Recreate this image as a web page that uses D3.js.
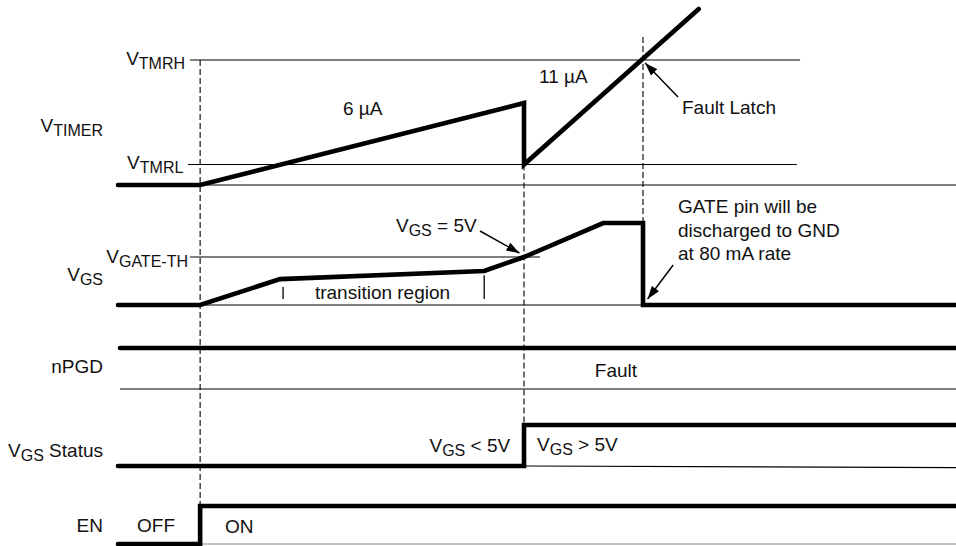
<!DOCTYPE html>
<html><head><meta charset="utf-8">
<script src="https://cdn.jsdelivr.net/npm/d3@7"></script>
<style>
body{margin:0;background:#fff;}
svg{display:block;font-family:"Liberation Sans",Arial,Helvetica,sans-serif;}
</style></head><body>
<svg id="c" width="956" height="546"></svg>
<script>
// ---------- DATA (time in arbitrary units, 0..100) ----------
const tEnd = 100;
const tEN = 9.8;        // EN goes ON
const tKnee1 = 19.33;   // VGS reaches transition region
const tTick1 = 19.7;
const tKnee2 = 43.7;    // end of transition region
const tVgs5 = 48.45;    // VGS = 5 V
const tVgsTop = 57.9;
const tFault = 62.65;   // fault latch
const tTimerEnd = 69.3;

// VTIMER, normalised so that VTMRH = 1
const timerThresholdNames = ["TMRH", "TMRL"];
const timerThresholds = [1, 0.164];
const timerThresholdSpan = [[8.6, 81.4], [8.35, 81.0]];
const timerT = [0, tEN, tVgs5, tVgs5, tTimerEnd];
const timerV = [0, 0, 0.656, 0.164, 1.408];

// VGS in volts
const vgsT = [0, tEN, tKnee1, tKnee2, tVgs5, tVgsTop, tFault, tFault, tEnd];
const vgsV = [0, 0, 2.7, 3.54, 5, 8.54, 8.54, 0, 0];
const vgateTh = 5;
const vgateThSpan = [8.6, 50.35];

// digital traces (0 = low, 1 = high)
const npgdT = [0.24, tEnd];
const npgdV = [1, 1];
const statusT = [0, tVgs5, tVgs5, tEnd];
const statusV = [0, 0, 1, 1];
const enT = [0, tEN, tEN, tEnd];
const enV = [0, 0, 1, 1];

// ---------- LAYOUT ----------
const svg = d3.select("#c");
const x = d3.scaleLinear().domain([0, 100]).range([118, 956]);
const yTimer = d3.scaleLinear().domain([0, 1]).range([185, 60]);
const yVgs = d3.scaleLinear().domain([0, 5]).range([305, 257]);
const yNpgd = d3.scaleLinear().domain([0, 1]).range([389, 348]);
const yStatus = d3.scaleLinear().domain([0, 1]).range([466, 425]);
const yEn = d3.scaleLinear().domain([0, 1]).range([544, 506]);

const FS = 19, SFS = 16, SDY = 4;
const thick = 4.6, thin = 1.2;

const line = d3.line();
function pts(T, V, ys) { return T.map((t, i) => [x(t), ys(V[i])]); }

const defs = svg.append("defs");
defs.append("marker").attr("id", "ah")
  .attr("markerUnits", "userSpaceOnUse")
  .attr("markerWidth", 14).attr("markerHeight", 10)
  .attr("refX", 13).attr("refY", 5).attr("orient", "auto")
  .append("path").attr("d", "M0,0.5 L13,5 L0,9.5 Z").attr("fill", "#000");

function hline(t0, t1, y, opts = {}) {
  svg.append("line").attr("x1", x(t0)).attr("x2", x(t1))
    .attr("y1", y).attr("y2", opts.y2 !== undefined ? opts.y2 : y)
    .attr("stroke", opts.color || "#000").attr("stroke-width", opts.w || thin);
}
function vdash(t, y0, y1) {
  svg.append("line").attr("x1", x(t)).attr("x2", x(t)).attr("y1", y0).attr("y2", y1)
    .attr("stroke", "#000").attr("stroke-width", 1.1).attr("stroke-dasharray", "6,3");
}
function trace(T, V, ys) {
  svg.append("path").attr("d", line(pts(T, V, ys)))
    .attr("fill", "none").attr("stroke", "#000").attr("stroke-width", thick)
    .attr("stroke-linecap", "round").attr("stroke-linejoin", "miter").attr("stroke-miterlimit", 4);
}
// parts: array of [string, isSub]
function stext(px, py, parts, anchor = "start") {
  const t = svg.append("text").attr("x", px).attr("y", py)
    .attr("text-anchor", anchor).attr("font-size", FS).attr("fill", "#111");
  let sub = false;
  parts.forEach(([s, isSub]) => {
    const ts = t.append("tspan").text(s);
    if (isSub) { ts.attr("font-size", SFS); if (!sub) ts.attr("dy", SDY); }
    else if (sub) ts.attr("dy", -SDY);
    sub = isSub;
  });
  return t;
}
function arrow(x1, y1, x2, y2) {
  svg.append("line").attr("x1", x1).attr("y1", y1).attr("x2", x2).attr("y2", y2)
    .attr("stroke", "#000").attr("stroke-width", 1.5).attr("marker-end", "url(#ah)");
}

// ---------- reference / threshold lines ----------
timerThresholds.forEach((v, i) => hline(timerThresholdSpan[i][0], timerThresholdSpan[i][1], yTimer(v)));
hline(tEN, tEnd, yTimer(0));
hline(vgateThSpan[0], vgateThSpan[1], yVgs(vgateTh));
hline(tEN, tEnd, yVgs(0));
hline(0.24, tEnd, yNpgd(0));
hline(tVgs5, tEnd, yStatus(0), {y2: yStatus(-0.04)});
hline(tEN, tEnd, yEn(0), {color: "#888"});

// transition region ticks
[[tTick1, 0.62, 1.88], [tKnee2, 0.62, 3.1]].forEach(([t, a, b]) => {
  svg.append("line").attr("x1", x(t)).attr("x2", x(t)).attr("y1", yVgs(a)).attr("y2", yVgs(b))
    .attr("stroke", "#000").attr("stroke-width", 1.3);
});

// ---------- dashed event markers ----------
vdash(tEN, yTimer(1), yEn(1));
vdash(tVgs5, yTimer(0.164), yStatus(1));
vdash(tFault, yTimer(1.184), yVgs(8.54));

// ---------- traces ----------
trace(timerT, timerV, yTimer);
trace(vgsT, vgsV, yVgs);
trace(npgdT, npgdV, yNpgd);
trace(statusT, statusV, yStatus);
trace(enT, enV, yEn);

// ---------- labels ----------
const LX = 103;
stext(LX, 132, [["V", false], ["TIMER", true]], "end");
stext(x(8.0), 65, [["V", false], ["TMRH", true]], "end");
stext(x(7.8), 169, [["V", false], ["TMRL", true]], "end");
stext(LX, 281, [["V", false], ["GS", true]], "end");
stext(x(8.35), 263, [["V", false], ["GATE-TH", true]], "end");
stext(LX, 373, [["nPGD", false]], "end");
stext(LX, 457, [["V", false], ["GS", true], [" Status", false]], "end");
stext(LX, 532, [["EN", false]], "end");

// ---------- annotations ----------
stext(x(26.85), 115, [["6 \u00b5A", false]]);
stext(x(50.24), 83, [["11 \u00b5A", false]]);
stext(x(67.3), 114, [["Fault Latch", false]]);
arrow(x(66.83), 97, x(62.9), 63);
stext(x(33.17), 232, [["V", false], ["GS", true], [" = 5V", false]]);
arrow(x(43.2), 231, x(47.9), 253);
stext(x(23.5), 299, [["transition region", false]]);
stext(x(66.83), 213, [["GATE pin will be", false]]);
stext(x(66.83), 237, [["discharged to GND", false]]);
stext(x(66.83), 260, [["at 80 mA rate", false]]);
arrow(x(66.25), 265, x(63.2), 299);
stext(x(56.9), 377, [["Fault", false]]);
stext(x(46.8), 452, [["V", false], ["GS", true], [" < 5V", false]], "end");
stext(x(50.0), 451, [["V", false], ["GS", true], [" > 5V", false]]);
stext(x(2.27), 532, [["OFF", false]]);
stext(x(12.77), 533, [["ON", false]]);
</script>
</body></html>
